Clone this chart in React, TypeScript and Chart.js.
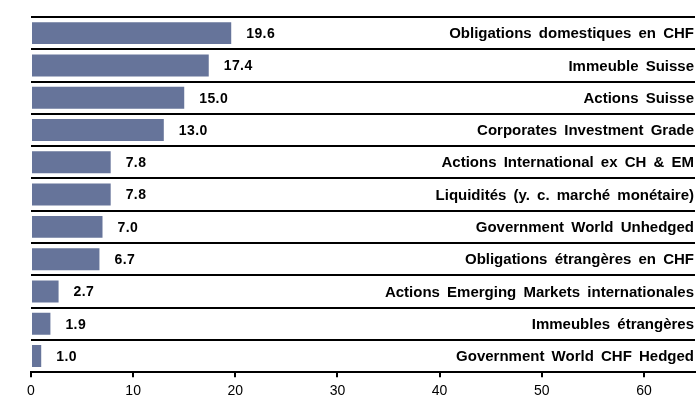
import React, { useEffect, useRef } from "react";
import { Chart, registerables } from "chart.js";

Chart.register(...registerables);

const categories = [
  "Obligations domestiques en CHF",
  "Immeuble Suisse",
  "Actions Suisse",
  "Corporates Investment Grade",
  "Actions International ex CH & EM",
  "Liquidités (y. c. marché monétaire)",
  "Government World Unhedged",
  "Obligations étrangères en CHF",
  "Actions Emerging Markets internationales",
  "Immeubles étrangères",
  "Government World CHF Hedged",
];

const values = [19.6, 17.4, 15.0, 13.0, 7.8, 7.8, 7.0, 6.7, 2.7, 1.9, 1.0];

const xTickValues = [0, 10, 20, 30, 40, 50, 60];
const xMax = 65;

const BAR_COLOR = "#66749a";
const FONT = "'Liberation Sans', Arial, sans-serif";

const labelPlugin = {
  id: "barLabels",
  afterDatasetsDraw(chart: any) {
    const ctx = chart.ctx as CanvasRenderingContext2D;
    const meta = chart.getDatasetMeta(0);
    const area = chart.chartArea;
    ctx.save();
    ctx.fillStyle = "#000";
    ctx.textBaseline = "middle";
    meta.data.forEach((bar: any, i: number) => {
      ctx.font = `bold 14px ${FONT}`;
      try {
        (ctx as any).letterSpacing = "0.4px";
        (ctx as any).wordSpacing = "0px";
      } catch (e) {}
      ctx.textAlign = "left";
      ctx.fillText(values[i].toFixed(1), bar.x + 15, bar.y + 1);
      ctx.font = `bold 15px ${FONT}`;
      try {
        (ctx as any).letterSpacing = "0px";
        (ctx as any).wordSpacing = "3px";
      } catch (e) {}
      ctx.textAlign = "right";
      ctx.fillText(categories[i], area.right - 1, bar.y + 1);
    });
    ctx.restore();
  },
};

export default function App() {
  const ref = useRef<HTMLCanvasElement | null>(null);

  useEffect(() => {
    if (!ref.current) return;
    const chart = new Chart(ref.current, {
      type: "bar",
      data: {
        labels: categories,
        datasets: [
          {
            data: values,
            backgroundColor: BAR_COLOR,
            borderWidth: 0,
            barPercentage: 0.68,
            categoryPercentage: 1,
          },
        ],
      },
      options: {
        indexAxis: "y",
        animation: false,
        responsive: false,
        maintainAspectRatio: false,
        layout: { padding: { left: 31, right: 3, top: 17, bottom: 0 } },
        plugins: {
          legend: { display: false },
          tooltip: { enabled: false },
          title: { display: false },
        },
        scales: {
          x: {
            type: "linear",
            min: 0,
            max: xMax,
            afterBuildTicks: (axis: any) => {
              axis.ticks = xTickValues.map((v) => ({ value: v }));
            },
            grid: {
              drawOnChartArea: false,
              drawTicks: true,
              tickLength: 5,
              color: "#000",
              lineWidth: 2,
            },
            border: { display: true, color: "#000", width: 2 },
            ticks: {
              color: "#000",
              padding: 6,
              font: { family: FONT, size: 14 },
              maxRotation: 0,
            },
          },
          y: {
            offset: true,
            grid: {
              offset: true,
              drawOnChartArea: true,
              drawTicks: false,
              color: "#000",
              lineWidth: 2,
            },
            border: { display: false },
            ticks: { display: false },
          },
        },
      },
      plugins: [labelPlugin],
    });
    return () => chart.destroy();
  }, []);

  return (
    <div style={{ position: "fixed", left: 0, top: 0, width: 698, height: 402, background: "#fff", overflow: "hidden" }}>
      <canvas ref={ref} width={698} height={406} style={{ width: 698, height: 406, display: "block" }} />
    </div>
  );
}
